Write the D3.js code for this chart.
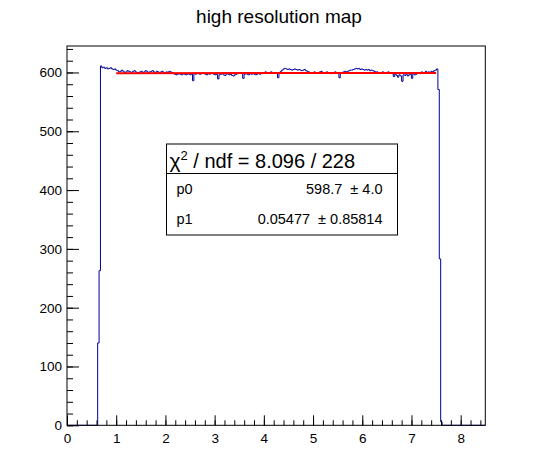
<!DOCTYPE html>
<html>
<head>
<meta charset="utf-8">
<script src="https://cdn.jsdelivr.net/npm/d3@7"></script>
<style>
  body { margin: 0; background: #fff; }
  svg { display: block; font-family: "Liberation Sans", Arial, sans-serif; }
  text { white-space: pre; }
</style>
</head>
<body>
<svg id="chart" width="558" height="474"></svg>
<script>
// histogram: 300 bins over [0, 8.5]
var xMin = 0, xMax = 8.5, nBins = 300;
var binContents = [
  0,0,0,0,0,0,0,0,0,0, 0,0,0,0,0,0,0,0,0,0, 0,0,
  140, 263,
  611,608,609,607,608,606,607,608,606,605,606,604,
  603,601,602,604,602,600,601,603,602,601,
  600,602,603,601,600,599,601,602,600,601,
  603,602,600,601,602,603,601,600,602,601,
  600,601,602,600,599,601,600,602,601,600,
  598,597,596,597,598,597,596,598,597,596,597,598,596,597,
  586,
  598,597,599,598,597,598,599,598,597,596,598,597,599,598,597,596,597,
  589,
  596,597,598,596,595,597,598,596,597,595,594,596,597,598,599,600,598,
  590,
  597,598,597,596,598,597,598,597,596,597,598,597,598,599,600,601,600,599,600,601,600,599,600,599,
  591,
  600,602,604,
  606,607,606,605,606,605,604,605,606,605,604,605,604,603,604,605,603,602,
  601,600,599,600,601,600,599,600,601,602,600,599,600,601,600,599,598,599,600,601,600,599,
  591,
  599,600,601,602,601,602,603,604,604,605,606,
  607,606,607,605,606,605,604,605,
  604,605,603,604,603,602,601,
  601,600,599,600,601,600,599,600,601,600,599,598,
  593,597,595,592,596,594,
  585,
  596,595,597,594,596,597,
  590,
  598,596,597,599,600,598,601,599,600,602,599,601,600,602,601,603,604,606,
  571, 283, 6,
  0,0,0,0,0,0,0,0,0,0, 0,0,0,0,0,0,0,0,0,0, 0,0,0,0,0,0,0,0,0,0, 0
];

// pol1 fit
var fitRange = [1, 7.5];
var fitParams = [598.7, 0.05477];
var statTitle = "\u03c7";
var statRows = [
  ["p0", "598.7  \u00b1 4.0"],
  ["p1", "0.05477  \u00b1 0.85814"]
];

var xTicks = [0, 1, 2, 3, 4, 5, 6, 7, 8];
var yTicks = [0, 100, 200, 300, 400, 500, 600];
var yMax = 645;

var svg = d3.select("#chart");
var x = d3.scaleLinear().domain([xMin, xMax]).range([67, 485.3]);
var y = d3.scaleLinear().domain([0, yMax]).range([425.3, 46]);

// title
svg.append("text")
   .attr("x", 279).attr("y", 23)
   .attr("text-anchor", "middle")
   .attr("font-size", 19)
   .text("high resolution map");

// histogram outline
var binW = (xMax - xMin) / nBins;
var pts = binContents.map(function(v, i) { return [xMin + i * binW, v]; });
pts.push([xMax, binContents[nBins - 1]]);
var step = d3.line()
   .x(function(d) { return x(d[0]); })
   .y(function(d) { return y(d[1]); })
   .curve(d3.curveStepAfter);
svg.append("path")
   .attr("d", step(pts))
   .attr("fill", "none")
   .attr("stroke", "#000099")
   .attr("stroke-width", 1);

// fit line
var fitLine = d3.line()
   .x(function(d) { return x(d); })
   .y(function(d) { return y(fitParams[0] + fitParams[1] * d); });
svg.append("path")
   .attr("d", fitLine(fitRange))
   .attr("stroke", "#ff0000")
   .attr("stroke-width", 2);

// axes, ticks point inwards like ROOT
var minorX = d3.range(0, 85).map(function(i) { return i * 0.1 * 2; }).filter(function(v) { return v <= xMax; });
svg.append("g")
   .attr("transform", "translate(0," + y(0) + ")")
   .call(d3.axisBottom(x).tickValues(minorX).tickSizeInner(-5).tickSizeOuter(0).tickFormat(""))
   .call(function(g) { g.select(".domain").remove(); });
svg.append("g")
   .attr("class", "xaxis")
   .attr("transform", "translate(0," + y(0) + ")")
   .call(d3.axisBottom(x).tickValues(xTicks).tickSizeInner(-10).tickSizeOuter(0).tickPadding(8).tickFormat(d3.format("d")))
   .call(function(g) { g.select(".domain").remove(); });

var minorY = d3.range(0, 33).map(function(i) { return i * 20; }).filter(function(v) { return v <= yMax; });
svg.append("g")
   .attr("transform", "translate(" + x(0) + ",0)")
   .call(d3.axisLeft(y).tickValues(minorY).tickSizeInner(-6).tickSizeOuter(0).tickFormat(""))
   .call(function(g) { g.select(".domain").remove(); });
svg.append("g")
   .attr("class", "yaxis")
   .attr("transform", "translate(" + x(0) + ",0)")
   .call(d3.axisLeft(y).tickValues(yTicks).tickSizeInner(-12).tickSizeOuter(0).tickPadding(5).tickFormat(d3.format("d")))
   .call(function(g) { g.select(".domain").remove(); });

svg.selectAll(".tick text")
   .attr("font-family", "Liberation Sans, Arial, sans-serif")
   .attr("font-size", 13.5)
   .attr("fill", "#000");
svg.selectAll(".tick line").attr("stroke", "#000");

// frame
svg.append("rect")
   .attr("x", x(xMin)).attr("y", y(yMax))
   .attr("width", x(xMax) - x(xMin)).attr("height", y(0) - y(yMax))
   .attr("fill", "none").attr("stroke", "#000").attr("stroke-width", 1);

// fit stats box
var box = svg.append("g");
box.append("rect")
   .attr("x", 166.5).attr("y", 144).attr("width", 231).attr("height", 91)
   .attr("fill", "#fff").attr("stroke", "#000");
box.append("line")
   .attr("x1", 166.5).attr("x2", 397.5).attr("y1", 173.5).attr("y2", 173.5)
   .attr("stroke", "#000");
var t = box.append("text").attr("x", 169.5).attr("y", 168).attr("font-size", 20);
t.append("tspan").attr("font-size", 21).text(statTitle);
t.append("tspan").attr("font-size", 13).attr("dy", -8).text("2");
t.append("tspan").attr("dy", 8).text(" / ndf = 8.096 / 228");

statRows.forEach(function(r, i) {
  box.append("text").attr("x", 176.5).attr("y", 194 + i * 29.5)
     .attr("font-size", 14.5).text(r[0]);
  box.append("text").attr("x", 382.5).attr("y", 194 + i * 29.5)
     .attr("font-size", 14.5).attr("text-anchor", "end").text(r[1]);
});
</script>
</body>
</html>
